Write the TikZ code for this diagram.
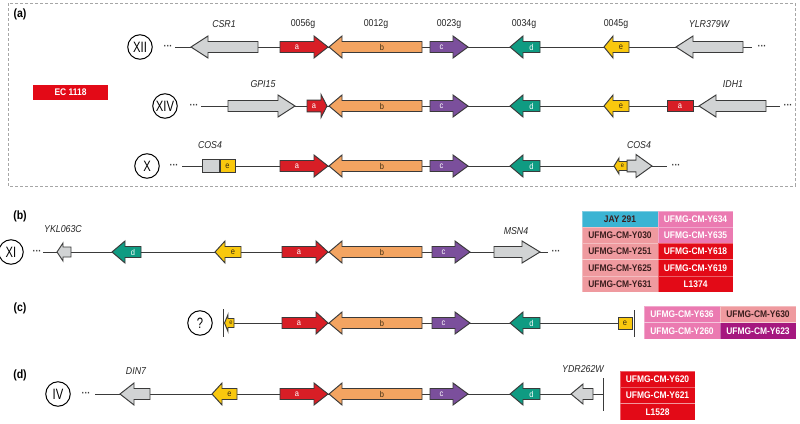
\documentclass[tikz,border=0pt]{standalone}
\usepackage{fontspec}
\setmainfont{Liberation Sans}[FakeStretch=0.88]
\newfontfamily\circfont{Liberation Sans}[FakeStretch=0.75]
\definecolor{cA}{HTML}{D81E26}
\definecolor{cB}{HTML}{F3A461}
\definecolor{cC}{HTML}{7B4F9C}
\definecolor{cD}{HTML}{0F9B82}
\definecolor{cE}{HTML}{F9C80E}
\definecolor{cG}{HTML}{D1D3D4}
\definecolor{cLine}{HTML}{3A3A3A}
\definecolor{cRed}{HTML}{E30A17}
\definecolor{cCyan}{HTML}{3BB4D3}
\definecolor{cPink}{HTML}{EB7AB1}
\definecolor{cSalmon}{HTML}{EF9A9F}
\definecolor{cMag}{HTML}{A5177F}
\definecolor{cDark}{HTML}{3B1E1E}
\definecolor{cTxt}{HTML}{3A2A10}
\tikzset{
  gene/.style={draw=cLine,line width=0.95pt,line join=miter},
  bb/.style={draw=cLine,line width=1pt},
  glab/.style={font=\fontsize{8.5}{9}\selectfont,inner sep=0pt},
  slab/.style={font=\fontsize{6.5}{6.5}\selectfont,inner sep=0pt,text=cTxt},
  nlab/.style={font=\fontsize{10}{10}\selectfont,inner sep=0pt,text=black!85},
  chrom/.style={circle,draw=black,line width=1pt,minimum size=24.5pt,inner sep=0pt,font=\circfont\fontsize{15}{15}\selectfont},
  dotsn/.style={font=\fontsize{10}{10}\selectfont\bfseries,inner sep=0pt,text=cLine},
  panel/.style={font=\fontsize{12}{12}\selectfont\bfseries,inner sep=0pt},
  cell/.style={minimum width=#1,minimum height=16.2pt,inner sep=0pt,font=\fontsize{9.6}{10}\selectfont\bfseries,draw=white,draw opacity=0.35,line width=0.4pt},
  bar/.style={draw=cLine,line width=1pt}
}
% tail, headstart, tip, y, h, H, fill
\newcommand\gshape[7]{\draw[gene,fill=#7] (#1,#4-#5) -- (#2,#4-#5) -- (#2,#4-#6) -- (#3,#4) -- (#2,#4+#6) -- (#2,#4+#5) -- (#1,#4+#5) -- cycle;}
% name, tail, headstart, tip, y, fill, textcolor, label
\newcommand\genearrow[8]{\gshape{#2}{#3}{#4}{#5}{5.5}{11}{#6}\node[glab,text=#7] (#1) at ({(#2+#3)/2},#5) {#8};}
\newcommand\core[3]{%
  \genearrow{#1a}{280}{314}{328}{#3}{cA}{white}{a}
  \genearrow{#1b}{422}{342}{329}{#3}{cB}{cTxt}{b}
  \genearrow{#1c}{430+#2}{453+#2}{468+#2}{#3}{cC}{white}{c}
  \genearrow{#1d}{540}{523}{510}{#3}{cD}{white}{d}
}
\begin{document}
\begin{tikzpicture}[x=1pt,y=-1pt]
\useasboundingbox (0,0) rectangle (800,423);
\fill[white] (0,0) rectangle (800,423);
% dashed frame (a)
\draw[draw=black!35,line width=0.7pt,dash pattern=on 3pt off 2pt] (8,3) rectangle (795,186);
\node[panel] (pa) at (20,14) {(a)};
\node[panel] (pb) at (20,216) {(b)};
\node[panel] (pc) at (20,308) {(c)};
\node[panel] (pd) at (20,375) {(d)};
% EC 1118
\node[fill=cRed,minimum width=75pt,minimum height=15pt,inner sep=0pt,text=white,font=\fontsize{9.6}{10}\selectfont\bfseries] (ec) at (70.5,92.5) {EC 1118};

% ---------- Row XII ----------
\node[chrom] (cXII) at (140,47) {XII};
\node[dotsn] (dXIIl) at (168,47) {···};
\node[dotsn] (dXIIr) at (762,47) {···};
\coordinate (xiiL) at (175,47); \coordinate (xiiR) at (752,47);
\draw[bb] (xiiL) -- (xiiR);
\gshape{258}{208}{191}{47}{5.5}{11}{cG}
\core{xii}{0}{47}
\genearrow{xiie}{629}{613}{604}{47}{cE}{cTxt}{e}
\gshape{743}{693}{676}{47}{5.5}{11}{cG}
\node[nlab] (lCSR1) at (224,24) {\itshape CSR1};
\node[nlab] (l56) at (303,24) {0056g};
\node[nlab] (l12) at (376,24) {0012g};
\node[nlab] (l23) at (449,24) {0023g};
\node[nlab] (l34) at (524,24) {0034g};
\node[nlab] (l45) at (616,24) {0045g};
\node[nlab] (lYLR) at (709,24) {\itshape YLR379W};

% ---------- Row XIV ----------
\node[chrom] (cXIV) at (165,106) {XIV};
\node[dotsn] (dXIVl) at (194,106) {···};
\node[dotsn] (dXIVr) at (788,106) {···};
\coordinate (xivL) at (201,106); \coordinate (xivR) at (780,106);
\draw[bb] (xivL) -- (xivR);
\gshape{228}{278}{295}{106}{5.5}{11}{cG}
\gshape{307}{321}{327}{106}{5.8}{11.5}{cA}
\node[glab,text=white] (xiva1) at (314,106) {a};
\genearrow{xivb}{422}{342}{329}{106}{cB}{cTxt}{b}
\genearrow{xivc}{430}{453}{468}{106}{cC}{white}{c}
\genearrow{xivd}{540}{523}{510}{106}{cD}{white}{d}
\genearrow{xive}{629}{613}{604}{106}{cE}{cTxt}{e}
\draw[gene,fill=cA] (667,100.5) rectangle (693,111.5);
\node[glab,text=white] (xiva2) at (680,106) {a};
\gshape{766}{716}{699}{106}{5.5}{11}{cG}
\node[nlab] (lGPI) at (263,84) {\itshape GPI15};
\node[nlab] (lIDH) at (733,84) {\itshape IDH1};

% ---------- Row X ----------
\node[chrom] (cX) at (147,166) {X};
\node[dotsn] (dXl) at (174,166) {···};
\node[dotsn] (dXr) at (676,166) {···};
\coordinate (xL) at (182,166); \coordinate (xR) at (667,166);
\draw[bb] (xL) -- (xR);
\draw[gene,fill=cG] (202,159.5) rectangle (219,172.5);
\draw[gene,fill=cE] (220,159.5) rectangle (235,172.5);
\node[glab,text=cTxt] (xe1) at (227.5,166) {e};
\core{x}{0}{166}
\gshape{627}{636}{652}{166}{5.8}{11.5}{cG}
\gshape{627}{619}{614}{166}{4.5}{8}{cE}
\node[slab] (xe2) at (622.5,166) {e};
\node[nlab] (lCOS4a) at (210,145) {\itshape COS4};
\node[nlab] (lCOS4b) at (639,145) {\itshape COS4};

% ---------- Row XI (b) ----------
\node[chrom] (cXI) at (11,252) {XI};
\node[dotsn] (dXIl) at (37,252) {···};
\node[dotsn] (dXIr) at (556,252) {···};
\coordinate (xiL) at (43,252); \coordinate (xiR) at (548,252);
\draw[bb] (xiL) -- (xiR);
\gshape{71}{63}{57}{252}{5}{9}{cG}
\genearrow{xid}{141}{125}{112}{252}{cD}{white}{d}
\genearrow{xie}{241}{225}{215}{252}{cE}{cTxt}{e}
\genearrow{xia}{282}{316}{328}{252}{cA}{white}{a}
\genearrow{xib}{422}{342}{329}{252}{cB}{cTxt}{b}
\genearrow{xic}{432}{455}{470}{252}{cC}{white}{c}
\gshape{494}{522}{540}{252}{5.5}{11}{cG}
\node[nlab] (lYKL) at (63,229) {\itshape YKL063C};
\node[nlab] (lMSN) at (516,231) {\itshape MSN4};
% table (b)
\node[cell=76pt,fill=cCyan,text=cDark] (tb11) at (620,219.1) {JAY 291};
\node[cell=75pt,fill=cPink,text=white] (tb12) at (695.5,219.1) {UFMG-CM-Y634};
\node[cell=76pt,fill=cSalmon,text=cDark] (tb21) at (620,235.3) {UFMG-CM-Y030};
\node[cell=75pt,fill=cPink,text=white] (tb22) at (695.5,235.3) {UFMG-CM-Y635};
\node[cell=76pt,fill=cSalmon,text=cDark] (tb31) at (620,251.5) {UFMG-CM-Y251};
\node[cell=75pt,fill=cRed,text=white] (tb32) at (695.5,251.5) {UFMG-CM-Y618};
\node[cell=76pt,fill=cSalmon,text=cDark] (tb41) at (620,267.7) {UFMG-CM-Y625};
\node[cell=75pt,fill=cRed,text=white] (tb42) at (695.5,267.7) {UFMG-CM-Y619};
\node[cell=76pt,fill=cSalmon,text=cDark] (tb51) at (620,283.9) {UFMG-CM-Y631};
\node[cell=75pt,fill=cRed,text=white] (tb52) at (695.5,283.9) {L1374};

% ---------- Row ? (c) ----------
\node[chrom] (cQ) at (200,323) {?};
\coordinate (qL) at (233,323); \coordinate (qR) at (618,323);
\draw[bb] (qL) -- (qR);
\coordinate (qb1t) at (223,309); \coordinate (qb1b) at (223,337);
\draw[bar] (qb1t) -- (qb1b);
\gshape{234}{228}{224.5}{323}{4.5}{8.5}{cE}
\node[slab] (qe1) at (231,323) {e};
\genearrow{qa}{282}{316}{328}{323}{cA}{white}{a}
\genearrow{qb}{422}{342}{329}{323}{cB}{cTxt}{b}
\genearrow{qc}{432}{455}{470}{323}{cC}{white}{c}
\genearrow{qd}{540}{523}{510}{323}{cD}{white}{d}
\draw[gene,fill=cE] (618,317) rectangle (632,329);
\node[glab,text=cTxt] (qe2) at (625,323) {e};
\coordinate (qb2t) at (634,310); \coordinate (qb2b) at (634,337);
\draw[bar] (qb2t) -- (qb2b);
% table (c)
\node[cell=76pt,minimum height=16.5pt,fill=cPink,text=white] (tc11) at (682,314.25) {UFMG-CM-Y636};
\node[cell=76pt,minimum height=16.5pt,fill=cSalmon,text=cDark] (tc12) at (758,314.25) {UFMG-CM-Y630};
\node[cell=76pt,minimum height=16.5pt,fill=cPink,text=white] (tc21) at (682,330.75) {UFMG-CM-Y260};
\node[cell=76pt,minimum height=16.5pt,fill=cMag,text=white] (tc22) at (758,330.75) {UFMG-CM-Y623};

% ---------- Row IV (d) ----------
\node[chrom] (cIV) at (58,394) {IV};
\node[dotsn] (dIVl) at (86,394) {···};
\coordinate (ivL) at (95,394); \coordinate (ivR) at (603,394);
\draw[bb] (ivL) -- (ivR);
\gshape{150}{134}{120}{394}{5.5}{11}{cG}
\genearrow{ive}{237}{222}{212}{394}{cE}{cTxt}{e}
\core{iv}{0}{394}
\gshape{593}{583}{571}{394}{5.5}{10}{cG}
\coordinate (ivbt) at (603,378); \coordinate (ivbb) at (603,411);
\draw[bar] (ivbt) -- (ivbb);
\node[nlab] (lDIN) at (136,371) {\itshape DIN7};
\node[nlab] (lYDR) at (583,369) {\itshape YDR262W};
% table (d)
\node[cell=75pt,minimum height=16.3pt,fill=cRed,text=white] (td1) at (657.5,379.2) {UFMG-CM-Y620};
\node[cell=75pt,minimum height=16.3pt,fill=cRed,text=white] (td2) at (657.5,395.5) {UFMG-CM-Y621};
\node[cell=75pt,minimum height=16.3pt,fill=cRed,text=white] (td3) at (657.5,411.8) {L1528};
\end{tikzpicture}
\end{document}
